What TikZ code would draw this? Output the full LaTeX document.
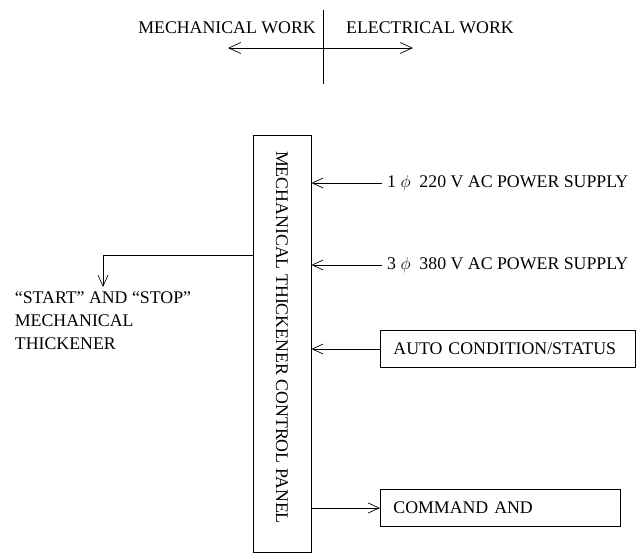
\documentclass[tikz,border=0pt]{standalone}
\usepackage{fontspec}
\setmainfont{Liberation Serif}
\usetikzlibrary{arrows.meta,positioning}
\tikzset{
  cpbox/.style={rectangle, draw=black, line width=0.8pt, inner sep=0pt},
  iobox/.style={
    rectangle, draw=black, line width=0.8pt,
    minimum height=37pt, inner xsep=13pt, inner ysep=0pt,
    align=left, anchor=west
  },
  iolabel/.style={inner xsep=5pt, inner ysep=2pt, anchor=west},
  sigarrow/.style={-{Straight Barb[length=11pt,width=10pt]}, line width=0.7pt},
  twoway/.style={{Straight Barb[length=12pt,width=11pt]}-{Straight Barb[length=12pt,width=11pt]}, line width=0.7pt},
  plainline/.style={line width=0.7pt},
}

\begin{document}
\begin{tikzpicture}[x=1pt, y=-1pt, font=\fontsize{17.8}{23}\selectfont]
  \useasboundingbox (0,0) rectangle (641,556);
  % work boundary
  \coordinate (divtop)  at (323,10);
  \coordinate (divbot)  at (323,84);
  \coordinate (mechend) at (228,48);
  \coordinate (elecend) at (413,48);
  \node (mech) [anchor=east, inner sep=3pt] at (319,28) {MECHANICAL WORK};
  \node (elec) [anchor=west, inner sep=3pt] at (343,28) {ELECTRICAL WORK};
  \draw[plainline] (divtop) -- (divbot);
  \draw[twoway] (mechend) -- (elecend);

  % control panel
  \node (panel) [cpbox, minimum width=58pt, minimum height=417pt] at (282,343.5) {};
  \node (paneltext) [rotate=-90] at ([yshift=6pt]panel.center) {MECHANICAL THICKENER CONTROL PANEL};

  % inputs / outputs
  \node (sup1) [iolabel] at (382,183) {1 $\phi$~~220 V AC POWER SUPPLY};
  \node (sup3) [iolabel] at (382,265) {3 $\phi$~~380 V AC POWER SUPPLY};
  \node (auto) [iobox, text width=229pt] at (380,349) {AUTO CONDITION/STATUS};
  \node (cmd)  [iobox, text width=214pt] at (380,508) {COMMAND AND};
  \node (stopnote) [align=left, anchor=north, inner sep=4pt] at (103,287)
    {“START” AND “STOP”\\MECHANICAL\\THICKENER};
  \coordinate (bend) at (103,255);

  \draw[sigarrow] (sup1.west) -- (sup1.west -| panel.east);
  \draw[sigarrow] (sup3.west) -- (sup3.west -| panel.east);
  \draw[sigarrow] (auto.west) -- (auto.west -| panel.east);
  \draw[sigarrow] (cmd.west -| panel.east) -- (cmd.west);
  \draw[sigarrow] (bend -| panel.west) -- (bend) -- (stopnote.north);
\end{tikzpicture}
\end{document}
